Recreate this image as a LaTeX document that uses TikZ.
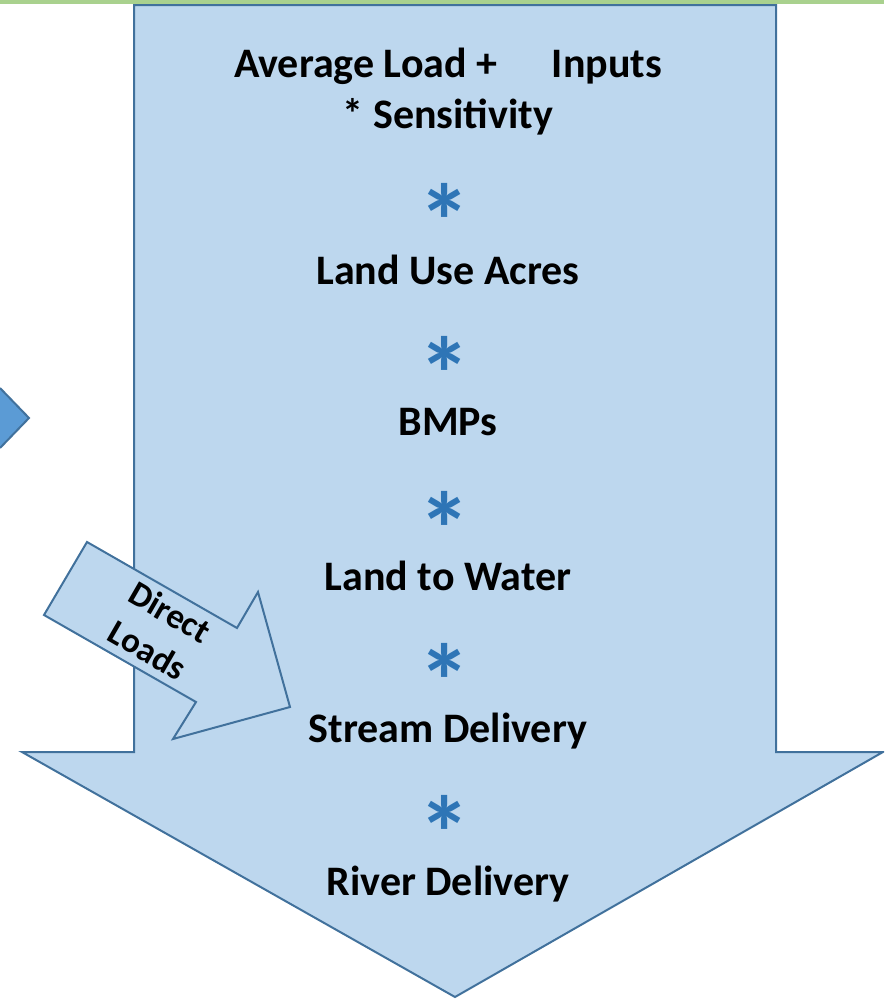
\documentclass[tikz,border=0pt]{standalone}
\usepackage{fontspec}
\setmainfont{Carlito}
\usetikzlibrary{positioning}
\definecolor{flowfill}{HTML}{BDD7EE}
\definecolor{flowline}{HTML}{41719C}
\definecolor{sidefill}{HTML}{5B9BD5}
\definecolor{topbar}{HTML}{A9D18E}
\definecolor{starblue}{HTML}{2E75B6}
\begin{document}
\begin{tikzpicture}[x=1pt, y=-1pt,
    stage/.style={font=\fontsize{42}{51}\selectfont\bfseries, inner sep=0pt, align=center},
    times/.style={font=\fontsize{105}{105}\selectfont\bfseries, text=starblue, inner sep=0pt},
    blockarrow/.style={draw=flowline, line width=2pt, fill=flowfill, line join=miter}
]
\useasboundingbox (0,0) rectangle (884,999);
\clip (0,0) rectangle (884,999);

% Barra verde
\fill[topbar] (0,0) rectangle (884,4);

% Freccia laterale
\fill[sidefill] (0,388) -- (29,418) -- (0,448) -- cycle;
\draw[flowline, line width=2pt] (0,388) -- (29,418) -- (0,448);

% Freccia principale
\draw[blockarrow] (134,5) -- (776,5) -- (776,752) -- (883,752) -- (455,997)
    -- (22,752) -- (134,752) -- cycle;

% Direct Loads
\draw[blockarrow] (87,542) -- (237,628) -- (258,592) -- (290,707) -- (173,739)
    -- (196,702) -- (44,615) -- cycle;
\node[stage, rotate=-30, font=\fontsize{35}{44}\selectfont\bfseries] (direct) at (159,631) {Direct\\Loads};

% Fasi
\node[stage] (average) at (448,92) {Average Load +\hspace{1.3em}Inputs\\* Sensitivity};
\node[times] (times1) at (445,221) {*};
\node[stage] (landuse) at (448,270) {Land Use Acres};
\node[times] (times2) at (445,374) {*};
\node[stage] (bmps) at (448,422) {BMPs};
\node[times] (times3) at (445,529) {*};
\node[stage] (landwater) at (448,576) {Land to Water};
\node[times] (times4) at (445,681) {*};
\node[stage] (stream) at (448,731) {Stream Delivery};
\node[times] (times5) at (445,833) {*};
\node[stage] (river) at (448,884) {River Delivery};
\end{tikzpicture}
\end{document}
